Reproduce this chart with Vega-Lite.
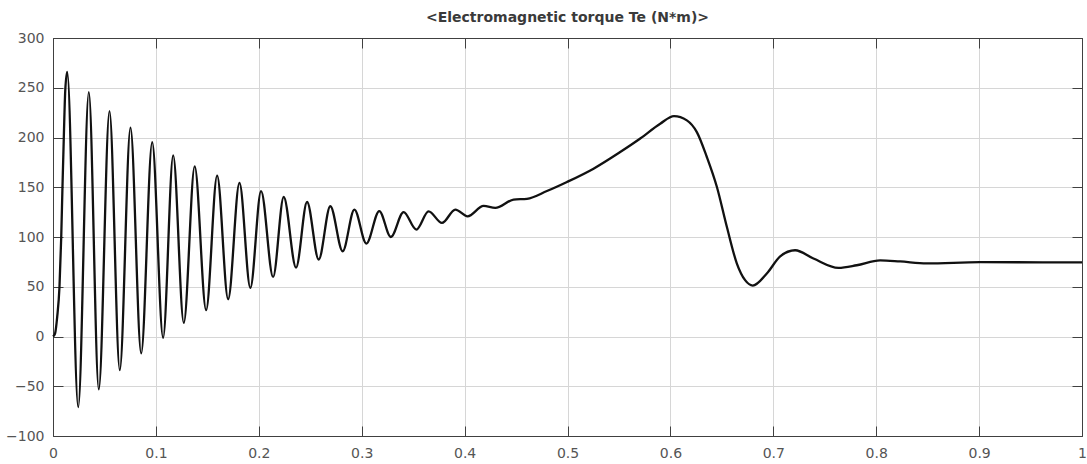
{
  "$schema": "https://vega.github.io/schema/vega-lite/v6.json",
  "width": 1029,
  "height": 398,
  "autosize": {"type": "none"},
  "padding": {"left": 53, "top": 38, "right": 5, "bottom": 28},
  "background": "white",
  "title": {"text": "<Electromagnetic torque Te (N*m)>", "font": "DejaVu Sans", "fontSize": 14, "fontWeight": "bold", "color": "#3a3a3a", "offset": 6},
  "data": {"values": [
    {"t": 0, "v": 0},
    {"t": 0.0020, "v": 3},
    {"t": 0.0041, "v": 20},
    {"t": 0.0063, "v": 50},
    {"t": 0.0080, "v": 100},
    {"t": 0.0092, "v": 150},
    {"t": 0.0105, "v": 200},
    {"t": 0.0119, "v": 247},
    {"t": 0.0138, "v": 266},
    {"t": 0.0245, "v": -71},
    {"t": 0.0348, "v": 245.6},
    {"t": 0.0445, "v": -53.1},
    {"t": 0.0549, "v": 226.5},
    {"t": 0.0649, "v": -33.8},
    {"t": 0.0753, "v": 209.9},
    {"t": 0.0857, "v": -17},
    {"t": 0.0964, "v": 195.4},
    {"t": 0.1070, "v": -1.3},
    {"t": 0.1168, "v": 182.1},
    {"t": 0.1271, "v": 13.7},
    {"t": 0.1377, "v": 171},
    {"t": 0.1488, "v": 26.5},
    {"t": 0.1595, "v": 161.7},
    {"t": 0.1702, "v": 37.5},
    {"t": 0.1812, "v": 154.3},
    {"t": 0.1918, "v": 48.9},
    {"t": 0.2022, "v": 146.2},
    {"t": 0.2139, "v": 59.9},
    {"t": 0.2242, "v": 140.2},
    {"t": 0.2362, "v": 69.3},
    {"t": 0.2469, "v": 135.2},
    {"t": 0.2582, "v": 77.4},
    {"t": 0.2695, "v": 130.9},
    {"t": 0.2815, "v": 85.7},
    {"t": 0.2929, "v": 127.6},
    {"t": 0.3045, "v": 93.4},
    {"t": 0.3171, "v": 126.1},
    {"t": 0.3283, "v": 100},
    {"t": 0.3407, "v": 125.1},
    {"t": 0.3531, "v": 107.5},
    {"t": 0.3650, "v": 125.8},
    {"t": 0.3780, "v": 114.1},
    {"t": 0.3910, "v": 127.6},
    {"t": 0.4029, "v": 120.8},
    {"t": 0.4185, "v": 131.2},
    {"t": 0.4298, "v": 129.2},
    {"t": 0.4476, "v": 137.6},
    {"t": 0.4606, "v": 138.4},
    {"t": 0.4800, "v": 146.2},
    {"t": 0.4995, "v": 155.3},
    {"t": 0.5253, "v": 168.7},
    {"t": 0.5512, "v": 185.4},
    {"t": 0.5707, "v": 199},
    {"t": 0.5901, "v": 213.9},
    {"t": 0.6035, "v": 221.5},
    {"t": 0.6160, "v": 217.2},
    {"t": 0.6257, "v": 205.4},
    {"t": 0.6354, "v": 180.4},
    {"t": 0.6452, "v": 150.2},
    {"t": 0.6549, "v": 110},
    {"t": 0.6646, "v": 73.3},
    {"t": 0.6726, "v": 56.6},
    {"t": 0.6801, "v": 51.2},
    {"t": 0.6937, "v": 63.3},
    {"t": 0.7067, "v": 80.5},
    {"t": 0.7212, "v": 86.7},
    {"t": 0.7390, "v": 78.4},
    {"t": 0.7633, "v": 69},
    {"t": 0.7811, "v": 71.6},
    {"t": 0.8038, "v": 76.5},
    {"t": 0.8232, "v": 75.4},
    {"t": 0.8491, "v": 73.4},
    {"t": 0.9009, "v": 74.7},
    {"t": 1.0, "v": 74.4}
  ]},
  "layer": [
    {
      "mark": {"type": "line", "interpolate": "monotone", "color": "#111111", "strokeWidth": 2.3},
      "encoding": {
        "x": {"field": "t", "type": "quantitative", "scale": {"domain": [0, 1], "nice": false, "zero": false},
          "axis": {"orient": "bottom", "title": null, "values": [0, 0.1, 0.2, 0.3, 0.4, 0.5, 0.6, 0.7, 0.8, 0.9, 1], "format": "~g",
            "grid": true, "gridColor": "#d6d6d6", "gridWidth": 1, "tickSize": -10, "tickColor": "#404040", "domainColor": "#404040",
            "labelFont": "DejaVu Sans", "labelFontSize": 14, "labelColor": "#555555", "labelPadding": 20, "labelFlush": false, "labelOverlap": false, "labelBound": false}},
        "y": {"field": "v", "type": "quantitative", "scale": {"domain": [-100, 300], "nice": false, "zero": false},
          "axis": {"orient": "left", "title": null, "values": [-100, -50, 0, 50, 100, 150, 200, 250, 300],
            "grid": true, "gridColor": "#d6d6d6", "gridWidth": 1, "tickSize": -10, "tickColor": "#404040", "domainColor": "#404040",
            "labelFont": "DejaVu Sans", "labelFontSize": 14, "labelColor": "#555555", "labelPadding": 19, "labelFlush": false, "labelOverlap": false, "labelBound": false}}
      }
    },
    {
      "mark": {"type": "line", "opacity": 0},
      "encoding": {
        "x": {"field": "t", "type": "quantitative",
          "axis": {"orient": "top", "title": null, "values": [0, 0.1, 0.2, 0.3, 0.4, 0.5, 0.6, 0.7, 0.8, 0.9, 1], "labels": false, "grid": false,
            "tickSize": -10, "tickColor": "#404040", "domainColor": "#404040"}},
        "y": {"field": "v", "type": "quantitative",
          "axis": {"orient": "right", "title": null, "values": [-100, -50, 0, 50, 100, 150, 200, 250, 300], "labels": false, "grid": false,
            "tickSize": -10, "tickColor": "#404040", "domainColor": "#404040"}}
      }
    }
  ],
  "resolve": {"axis": {"x": "independent", "y": "independent"}},
  "config": {"view": {"stroke": "#404040", "strokeWidth": 1}}
}
